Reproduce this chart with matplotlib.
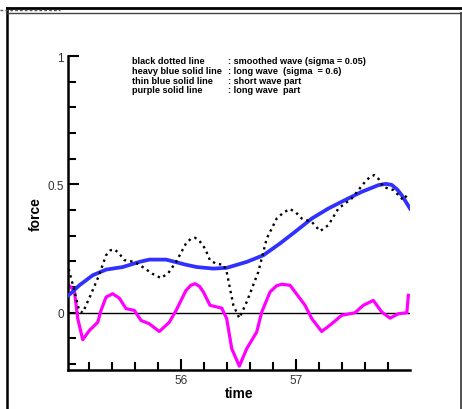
import matplotlib
matplotlib.use("Agg")
import matplotlib.pyplot as plt
from matplotlib.lines import Line2D
from matplotlib.ticker import MultipleLocator, FixedLocator

plt.rcParams['font.family'] = ['Liberation Sans', 'DejaVu Sans']

# black dotted : smoothed wave (sigma = 0.05)
t_smooth = [55.023, 55.07, 55.113, 55.145, 55.21, 55.287, 55.348, 55.385, 55.42,
            55.46, 55.507, 55.594, 55.667, 55.75, 55.826, 55.89, 55.957, 56.043,
            56.085, 56.122, 56.16, 56.209, 56.252, 56.31, 56.368, 56.397, 56.455,
            56.507, 56.571, 56.672, 56.745, 56.832, 56.89, 56.948, 57.0,
            57.05, 57.137, 57.209, 57.281, 57.368, 57.484, 57.6, 57.645, 57.681,
            57.72, 57.759, 57.846, 57.933, 57.977]
f_smooth = [0.17, 0.09, 0.01, 0.0, 0.065, 0.146, 0.224, 0.243, 0.247,
            0.232, 0.205, 0.198, 0.178, 0.152, 0.135, 0.155, 0.198, 0.27,
            0.288, 0.292, 0.28, 0.25, 0.204, 0.19, 0.1875, 0.159, 0.029,
            -0.021, 0.042, 0.159, 0.289, 0.367, 0.39, 0.404, 0.39,
            0.367, 0.354, 0.318, 0.341, 0.406, 0.445, 0.51, 0.53, 0.536,
            0.52, 0.49, 0.478, 0.439, 0.465]

# heavy blue : long wave (sigma = 0.6)
t_long = [55.023, 55.116, 55.232, 55.348, 55.493, 55.637, 55.724, 55.87,
          56.043, 56.137, 56.281, 56.397, 56.571, 56.716, 56.861, 56.991,
          57.137, 57.281, 57.426, 57.571, 57.716, 57.78, 57.832, 57.88, 57.919,
          57.991]
f_long = [0.068, 0.107, 0.146, 0.168, 0.178, 0.198, 0.207, 0.207,
          0.187, 0.178, 0.172, 0.175, 0.198, 0.224, 0.27, 0.315,
          0.367, 0.406, 0.439, 0.471, 0.497, 0.502, 0.498, 0.48, 0.458,
          0.406]

# purple : long wave part
t_part = [55.023, 55.072, 55.102, 55.145, 55.203, 55.276, 55.304, 55.348,
          55.406, 55.463, 55.522, 55.594, 55.652, 55.724, 55.811, 55.898,
          55.957, 56.043, 56.085, 56.122, 56.16, 56.194, 56.252, 56.354, 56.397,
          56.441, 56.507, 56.571, 56.658, 56.702, 56.774, 56.83, 56.876, 56.948,
          57.035, 57.078, 57.137, 57.223, 57.31, 57.397, 57.513, 57.585, 57.672,
          57.745, 57.817, 57.89, 57.963, 57.977]
f_part = [0.107, 0.087, -0.023, -0.105, -0.069, -0.037, 0.009, 0.061,
          0.074, 0.057, 0.016, 0.009, -0.03, -0.043, -0.073, -0.037,
          0.009, 0.087, 0.107, 0.113, 0.103, 0.081, 0.029, 0.018, -0.023,
          -0.14, -0.208, -0.14, -0.075, 0.003, 0.081, 0.105, 0.111, 0.107,
          0.055, 0.029, -0.023, -0.073, -0.043, -0.01, 0.0, 0.029, 0.048,
          0.003, -0.021, -0.004, 0.0, 0.068]

legend_names = ["black dotted line", "heavy blue solid line",
                "thin blue solid line", "purple solid line"]
legend_desc = [": smoothed wave (sigma = 0.05)", ": long wave  (sigma  = 0.6)",
               ": short wave part", ": long wave  part"]

W, H = 462, 410
fig = plt.figure(figsize=(W / 100, H / 100), dpi=100)
ax = fig.add_axes([68 / W, 1 - 371 / H, (410 - 68) / W, (371 - 57) / H])

ax.axhline(0, color='black', lw=1, zorder=1)
ax.plot(t_part, f_part, color='#ff00ff', lw=2.3, zorder=2, solid_joinstyle='round')
ax.plot(t_long, f_long, color='#3030ff', lw=2.7, zorder=3, solid_joinstyle='round')
ax.plot(t_smooth, f_smooth, color='black', lw=1.7, linestyle=(0, (1, 1.7)), zorder=4)

ax.set_xlim(55.017, 57.991)
ax.set_ylim(-0.223, 1.0)

ax.xaxis.set_major_locator(FixedLocator([56, 57]))
ax.xaxis.set_minor_locator(MultipleLocator(0.2))
ax.yaxis.set_major_locator(FixedLocator([0, 0.5, 1]))
ax.yaxis.set_minor_locator(MultipleLocator(0.1))
ax.set_yticklabels(['0', '0.5', '1'])

for s in ['top', 'right']:
    ax.spines[s].set_visible(False)
for s in ['left', 'bottom']:
    ax.spines[s].set_linewidth(1.8)
ax.tick_params(which='both', direction='in', width=1.5, labelsize=8.5,
               labelcolor='#333333', pad=3)
ax.tick_params(which='major', length=8)
ax.tick_params(which='minor', length=6)

ax.set_xlabel('time', fontsize=10, fontweight='bold', labelpad=0)
ax.set_ylabel('force', fontsize=10, fontweight='bold', labelpad=3)

for i, (n, d) in enumerate(zip(legend_names, legend_desc)):
    y = 1 - (62 + i * 9.6) / H
    fig.text(131.5 / W, y, n, fontsize=6.6, fontweight='bold', va='center')
    fig.text(228 / W, y, d, fontsize=6.6, fontweight='bold', va='center')

# outer frame
fig.add_artist(Line2D([7 / W, 7 / W], [0, 1 - 9 / H], color='black', lw=1.8))
fig.add_artist(Line2D([7 / W, 461 / W], [1 - 9 / H, 1 - 9 / H], color='black', lw=2))
fig.add_artist(Line2D([7 / W, 461 / W], [1 - 13.5 / H, 1 - 13.5 / H], color='#444444', lw=1))
fig.add_artist(Line2D([461 / W, 461 / W], [0, 1 - 13.5 / H], color='#333333', lw=1.2))
fig.add_artist(Line2D([0, 60 / W], [1 - 11 / H, 1 - 11 / H], color='#555555', lw=1,
                      linestyle=(0, (2, 1.5))))

fig.savefig('out.png', dpi=100)
